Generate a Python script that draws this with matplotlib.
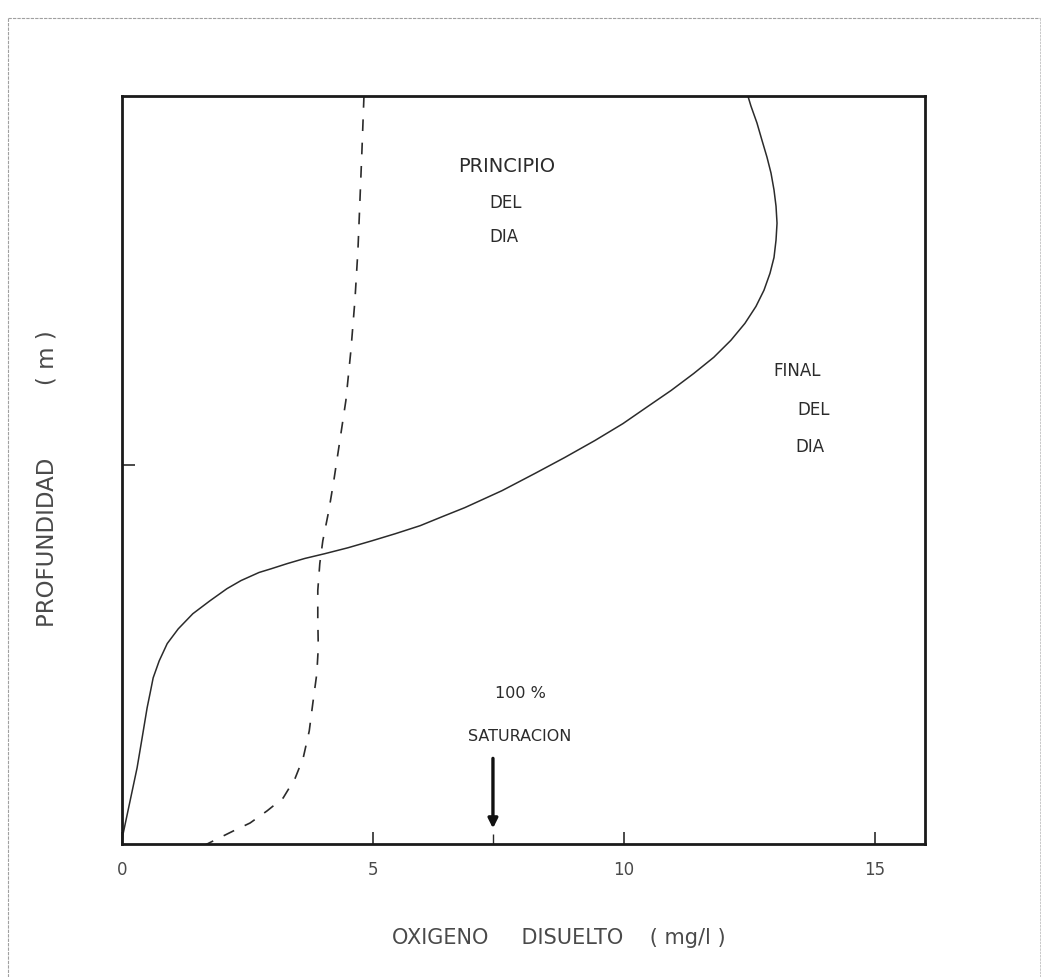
import numpy as np
import matplotlib
matplotlib.use("Agg")
import matplotlib.pyplot as plt
from matplotlib.lines import Line2D

# oxygen (mg/l) vs depth (m)
# end of day (solid)
final_oxygen = [12.47, 12.53, 12.65, 12.75, 12.85, 12.93, 12.99, 13.03, 13.05, 13.03, 12.99,
                12.91, 12.79, 12.63, 12.41, 12.13, 11.79, 11.39, 10.94, 10.48, 9.98, 9.42,
                8.82, 8.23, 7.57, 6.83, 6.39, 5.94, 5.44, 4.98, 4.50, 4.04, 3.64, 3.29,
                2.97, 2.73, 2.37, 2.09, 1.75, 1.41, 1.12, 0.90, 0.74, 0.62, 0.56, 0.50,
                0.40, 0.30, 0.16, 0.02, 0.0]
final_depth = [0.000, 0.027, 0.073, 0.120, 0.166, 0.209, 0.255, 0.299, 0.345, 0.391, 0.438,
               0.481, 0.527, 0.571, 0.617, 0.663, 0.709, 0.753, 0.799, 0.842, 0.889, 0.935,
               0.981, 1.024, 1.071, 1.117, 1.141, 1.166, 1.188, 1.207, 1.226, 1.242, 1.255, 1.269,
               1.283, 1.293, 1.315, 1.337, 1.370, 1.405, 1.446, 1.486, 1.533, 1.579, 1.620, 1.660,
               1.742, 1.823, 1.913, 2.003, 2.033]

# start of day (dashed)
start_oxygen = [4.82, 4.78, 4.74, 4.70, 4.64, 4.56, 4.46, 4.34, 4.22, 4.12, 4.00, 3.94,
                3.90, 3.90, 3.91, 3.88, 3.80, 3.73, 3.61, 3.45, 3.21, 2.89, 2.55, 2.21,
                1.81, 1.65]
start_depth = [0.000, 0.147, 0.283, 0.418, 0.554, 0.690, 0.826, 0.935, 1.043, 1.125, 1.207, 1.269,
               1.342, 1.416, 1.497, 1.568, 1.649, 1.723, 1.796, 1.851, 1.905, 1.940, 1.973, 1.995,
               2.022, 2.033]

saturation = 7.39
xticks = [0, 5, 10, 15]
xticklabels = ["0", "5", "10", "15"]

ink = "#2b2b2b"
grey = "#4a4a4a"

fig = plt.figure(figsize=(10.44, 9.77), dpi=100)
ax = fig.add_axes([0.1169, 0.1361, 0.7692, 0.7656])

ax.plot(final_oxygen, final_depth, color=ink, lw=1.1)
ax.plot(start_oxygen, start_depth, color=ink, lw=1.2, dashes=(7, 7))

ax.set_xlim(0, 16)
ax.set_ylim(2.03, 0)

ax.set_xticks(xticks)
ax.set_xticklabels(xticklabels, fontsize=12, color=grey)
ax.set_xticks([saturation], minor=True)
ax.set_yticks([1.0])
ax.set_yticklabels([])
ax.tick_params(axis="both", which="major", direction="in", length=9, width=1.2, color=ink, pad=12)
ax.tick_params(axis="x", which="minor", direction="in", length=7, width=1.0, color=ink)
for s in ax.spines.values():
    s.set_linewidth(2.0)
    s.set_color("#1a1a1a")

ax.set_xlabel("OXIGENO     DISUELTO    ( mg/l )", fontsize=15, color=grey)
ax.xaxis.set_label_coords(0.544, -0.112)
ax.set_ylabel("PROFUNDIDAD          ( m )", fontsize=16.5, color=grey)
ax.yaxis.set_label_coords(-0.079, 0.489)

# curve labels
ax.text(7.67, 0.19, "PRINCIPIO", ha="center", va="center", fontsize=14, color=ink)
ax.text(7.64, 0.29, "DEL", ha="center", va="center", fontsize=12, color=ink)
ax.text(7.60, 0.383, "DIA", ha="center", va="center", fontsize=12, color=ink)
ax.text(13.45, 0.745, "FINAL", ha="center", va="center", fontsize=12, color=ink)
ax.text(13.77, 0.853, "DEL", ha="center", va="center", fontsize=12, color=ink)
ax.text(13.70, 0.953, "DIA", ha="center", va="center", fontsize=12, color=ink)
ax.text(7.93, 1.622, "100 %", ha="center", va="center", fontsize=11.5, color=ink)
ax.text(7.93, 1.737, "SATURACION", ha="center", va="center", fontsize=11.5, color=ink)

ax.annotate("", xy=(saturation, 1.995), xytext=(saturation, 1.79),
            arrowprops=dict(arrowstyle="-|>", color="#111111", lw=2.4, mutation_scale=14))

# page border of the scan
fig.add_artist(Line2D([0.008, 0.996], [0.982, 0.982], color="#a0a0a0", lw=0.8, ls=(0, (3, 1))))
fig.add_artist(Line2D([0.008, 0.008], [0.0, 0.982], color="#a0a0a0", lw=0.8, ls=(0, (3, 1))))
fig.add_artist(Line2D([0.996, 0.996], [0.0, 0.982], color="#c0c0c0", lw=0.6, ls=(0, (3, 1))))

fig.savefig("out.png", dpi=100)
